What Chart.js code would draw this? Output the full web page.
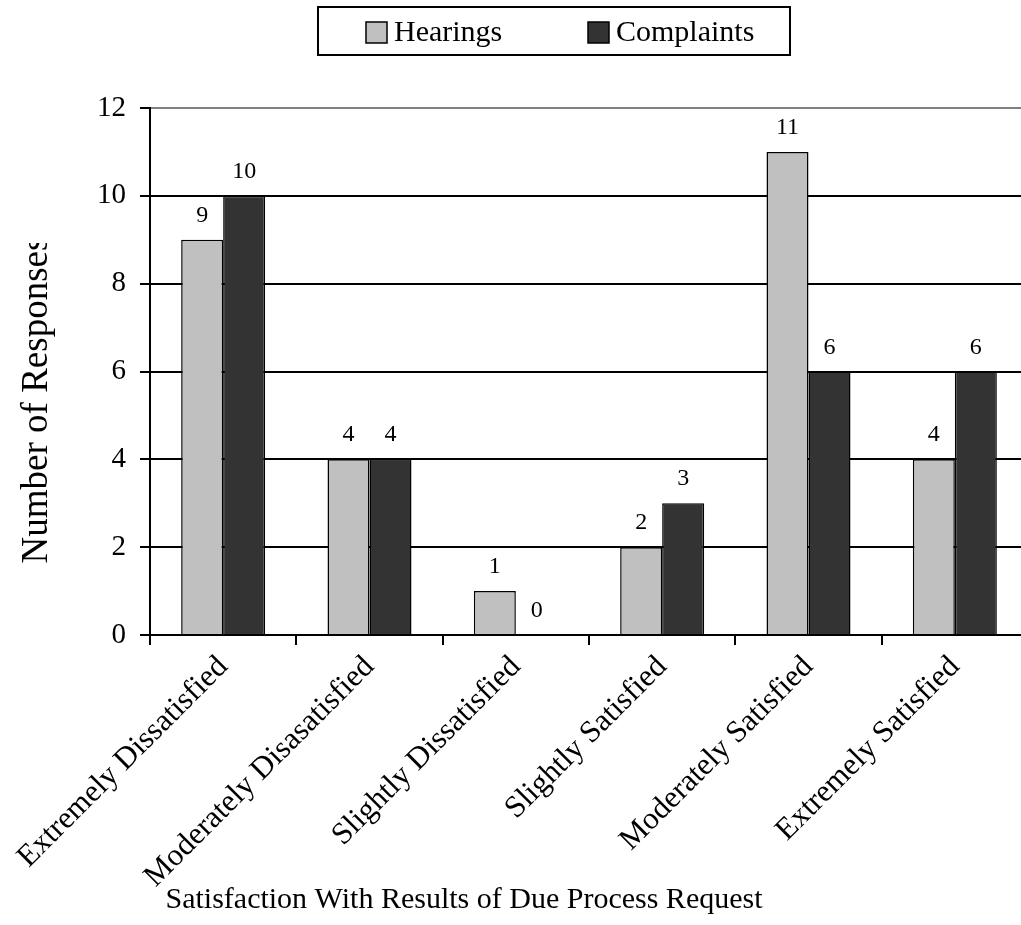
<!DOCTYPE html>
<html>
<head>
<meta charset="utf-8">
<script src="https://cdn.jsdelivr.net/npm/chart.js"></script>
<style>
  html, body { margin: 0; padding: 0; background: #fff; overflow: hidden; }
  #wrap { position: relative; width: 1030px; height: 925px; }
</style>
</head>
<body>
<div id="wrap"><canvas id="bar-chart" width="1030" height="925"></canvas></div>
<script>
const categories = ['Extremely Dissatisfied', 'Moderately Disasatisfied', 'Slightly Dissatisfied',
                    'Slightly Satisfied', 'Moderately Satisfied', 'Extremely Satisfied'];
const hearings = [9, 4, 1, 2, 11, 4];
const complaints = [10, 4, 0, 3, 6, 6];
const yTicks = [0, 2, 4, 6, 8, 10, 12];
const seriesNames = ['Hearings', 'Complaints'];
const xTitle = 'Satisfaction With Results of Due Process Request';
const yTitle = 'Number of Responses';

const serif = '"Liberation Serif", "Times New Roman", serif';

// value over every bar
const valueLabels = {
    id: 'valueLabels',
    afterDatasetsDraw(chart) {
        const ctx = chart.ctx;
        ctx.save();
        ctx.font = '24px ' + serif;
        ctx.fillStyle = '#000';
        ctx.textAlign = 'center';
        ctx.textBaseline = 'alphabetic';
        chart.data.datasets.forEach((ds, i) => {
            chart.getDatasetMeta(i).data.forEach((bar, j) => {
                ctx.fillText(String(ds.data[j]), bar.x, bar.y - 18);
            });
        });
        ctx.restore();
    }
};

// boxed legend + axis titles, placed like the original
const frame = {
    id: 'frame',
    afterDraw(chart) {
        const ctx = chart.ctx;
        ctx.save();
        // legend box
        ctx.lineWidth = 2;
        ctx.strokeStyle = '#000';
        ctx.strokeRect(318, 7, 472, 48);
        const swatchX = [366, 588];
        ctx.font = '30px ' + serif;
        ctx.textBaseline = 'middle';
        ctx.textAlign = 'left';
        chart.data.datasets.forEach((ds, i) => {
            ctx.fillStyle = ds.backgroundColor;
            ctx.fillRect(swatchX[i], 22, 21, 21);
            ctx.lineWidth = 1.5;
            ctx.strokeRect(swatchX[i], 22, 21, 21);
            ctx.fillStyle = '#000';
            ctx.fillText(ds.label, swatchX[i] + 28, 33);
        });

        // x title
        ctx.font = '30px ' + serif;
        ctx.textAlign = 'center';
        ctx.textBaseline = 'alphabetic';
        ctx.fillText(xTitle, 464, 908);

        // y title (clipped at the top like the source)
        ctx.beginPath();
        ctx.rect(0, 243, 120, 500);
        ctx.clip();
        ctx.translate(37, 400);
        ctx.rotate(-Math.PI / 2);
        ctx.font = '37px ' + serif;
        ctx.textBaseline = 'middle';
        ctx.fillText(yTitle, 0, 0);
        ctx.restore();
    }
};

const ctx = document.getElementById('bar-chart').getContext('2d');
new Chart(ctx, {
    type: 'bar',
    data: {
        labels: categories,
        datasets: [{
            label: seriesNames[0],
            data: hearings,
            backgroundColor: '#c0c0c0',
            borderColor: '#000',
            borderWidth: 1.5,
            categoryPercentage: 0.574,
            barPercentage: 1
        }, {
            label: seriesNames[1],
            data: complaints,
            backgroundColor: '#333333',
            borderColor: '#000',
            borderWidth: 1.5,
            categoryPercentage: 0.574,
            barPercentage: 1
        }]
    },
    options: {
        responsive: false,
        animation: false,
        devicePixelRatio: 1,
        layout: { padding: { top: 108, right: 2, left: 0, bottom: 0 } },
        plugins: {
            legend: { display: false },
            tooltip: { enabled: false }
        },
        scales: {
            x: {
                afterFit: (scale) => { scale.height = 290; },
                grid: { drawOnChartArea: false, offset: true, tickLength: 10, color: '#000', lineWidth: 2 },
                border: { color: '#000', width: 2 },
                ticks: {
                    color: '#000',
                    font: { family: serif, size: 31 },
                    minRotation: 45,
                    maxRotation: 45,
                    autoSkip: false,
                    padding: 4
                }
            },
            y: {
                min: 0,
                max: 12,
                afterFit: (scale) => { scale.width = 150; },
                afterBuildTicks: (scale) => { scale.ticks = yTicks.map(v => ({ value: v })); },
                grid: {
                    color: (c) => (c.tick && c.tick.value === 12 ? '#808080' : '#000'),
                    lineWidth: 2,
                    tickLength: 10,
                    tickColor: '#000'
                },
                border: { color: '#000', width: 2 },
                ticks: {
                    color: '#000',
                    font: { family: serif, size: 29 },
                    padding: 14
                }
            }
        }
    },
    plugins: [valueLabels, frame]
});
</script>
</body>
</html>
